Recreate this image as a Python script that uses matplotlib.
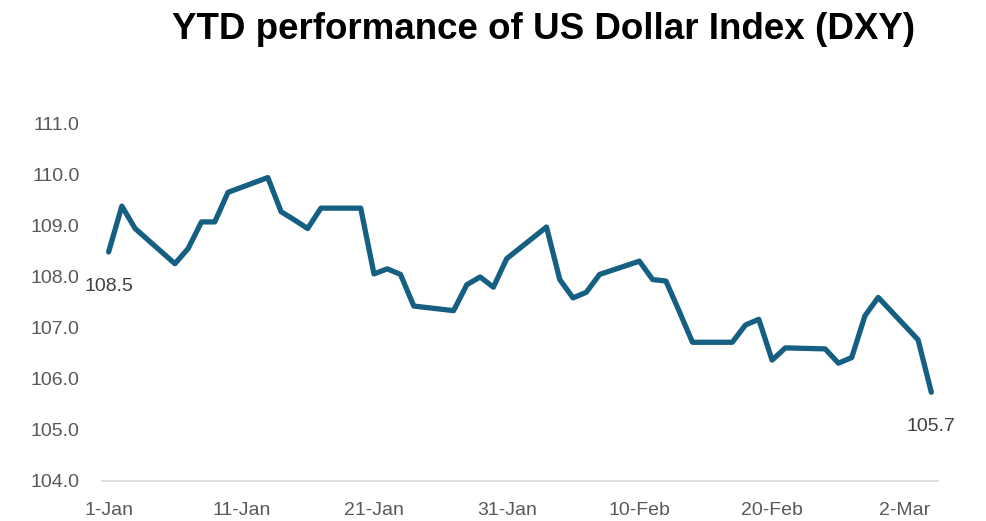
import matplotlib
matplotlib.use("Agg")
import matplotlib.pyplot as plt
import pandas as pd

# DXY closes, 1 Jan - 4 Mar
dates = ["2025-01-01", "2025-01-02", "2025-01-03", "2025-01-06", "2025-01-07",
         "2025-01-08", "2025-01-09", "2025-01-10", "2025-01-13", "2025-01-14",
         "2025-01-15", "2025-01-16", "2025-01-17", "2025-01-20", "2025-01-21",
         "2025-01-22", "2025-01-23", "2025-01-24", "2025-01-27", "2025-01-28",
         "2025-01-29", "2025-01-30", "2025-01-31", "2025-02-03", "2025-02-04",
         "2025-02-05", "2025-02-06", "2025-02-07", "2025-02-10", "2025-02-11",
         "2025-02-12", "2025-02-13", "2025-02-14", "2025-02-17", "2025-02-18",
         "2025-02-19", "2025-02-20", "2025-02-21", "2025-02-24", "2025-02-25",
         "2025-02-26", "2025-02-27", "2025-02-28", "2025-03-03", "2025-03-04"]
dxy = [108.49, 109.39, 108.95, 108.26, 108.56,
       109.08, 109.08, 109.66, 109.95, 109.28,
       109.12, 108.95, 109.35, 109.35, 108.06,
       108.16, 108.05, 107.43, 107.34, 107.85,
       108.00, 107.80, 108.36, 108.98, 107.95,
       107.59, 107.70, 108.05, 108.31, 107.95,
       107.92, 107.33, 106.72, 106.72, 107.06,
       107.17, 106.37, 106.61, 106.59, 106.31,
       106.42, 107.24, 107.60, 106.77, 105.74]
tick_dates = ["2025-01-01", "2025-01-11", "2025-01-21", "2025-01-31",
              "2025-02-10", "2025-02-20", "2025-03-02"]
tick_labels = ["1-Jan", "11-Jan", "21-Jan", "31-Jan", "10-Feb", "20-Feb", "2-Mar"]
y_ticks = [104, 105, 106, 107, 108, 109, 110, 111]

start = pd.Timestamp(dates[0])
days = [(pd.Timestamp(d) - start).days for d in dates]
tick_days = [(pd.Timestamp(d) - start).days for d in tick_dates]

line_color = "#156082"
label_color = "#595959"

fig = plt.figure(figsize=(9.87, 5.21), dpi=100)
ax = fig.add_axes([0.1033, 0.0768, 0.847, 0.6852])

ax.plot(days, dxy, color=line_color, lw=3.8, solid_joinstyle="round",
        solid_capstyle="round")

ax.set_xlim(-0.5, days[-1] + 0.5)
ax.set_ylim(104, 111)
ax.set_yticks(y_ticks)
ax.set_yticklabels([f"{v:.1f}" for v in y_ticks], family="Liberation Sans",
                   fontsize=14, color=label_color)
ax.set_xticks(tick_days)
ax.set_xticklabels(tick_labels, family="Liberation Sans", fontsize=14,
                   color=label_color)
ax.tick_params(axis="both", length=0)
ax.tick_params(axis="y", pad=16)
ax.tick_params(axis="x", pad=15)

for side in ["top", "right", "left"]:
    ax.spines[side].set_visible(False)
ax.spines["bottom"].set_color("#d9d9d9")
ax.spines["bottom"].set_linewidth(1.2)

# first and last values
ax.annotate(f"{dxy[0]:.1f}", (days[0], dxy[0]), xytext=(0, -24.5),
            textcoords="offset points", ha="center", va="center",
            family="Liberation Sans", fontsize=14, color="#404040")
ax.annotate(f"{dxy[-1]:.1f}", (days[-1], dxy[-1]), xytext=(0, -25),
            textcoords="offset points", ha="center", va="center",
            family="Liberation Sans", fontsize=14, color="#404040")

fig.text(0.551, 0.943, "YTD performance of US Dollar Index (DXY)",
         ha="center", va="center", family="Liberation Sans", fontweight="bold",
         fontsize=26.5, color="black")

fig.savefig("out.png", dpi=100)
